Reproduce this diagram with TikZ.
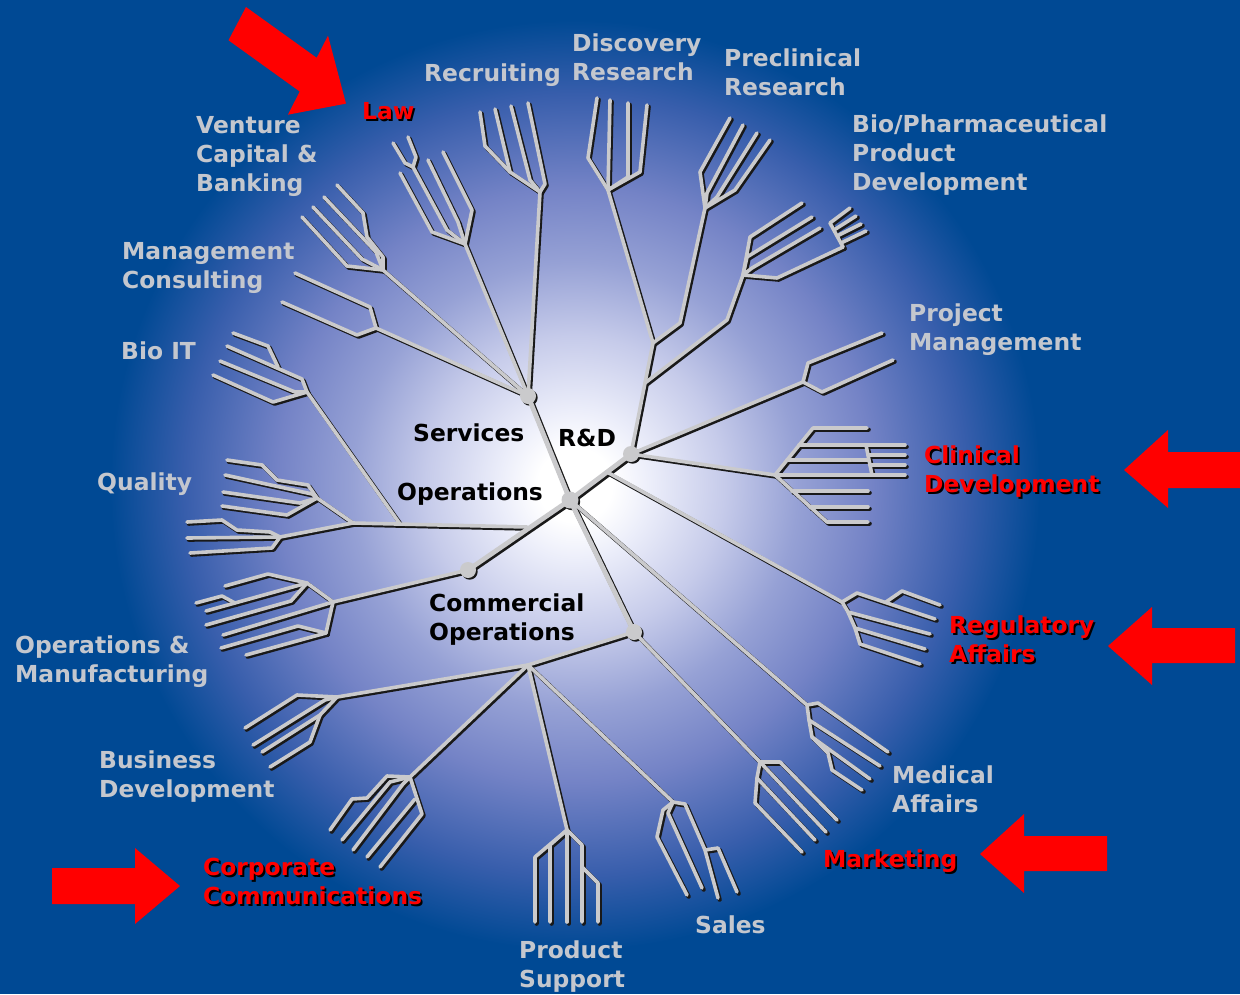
\documentclass[tikz,border=0pt]{standalone}
\usepackage{fontspec}
\setmainfont{DejaVu Sans}
\definecolor{bgblue}{RGB}{0,73,148}
\definecolor{glow0}{RGB}{236,238,250}
\definecolor{glowA}{RGB}{198,203,234}
\definecolor{glowB}{RGB}{150,161,213}
\definecolor{glowC}{RGB}{116,131,198}
\definecolor{glowD}{RGB}{56,94,172}
\definecolor{branchgrey}{RGB}{202,202,204}
\definecolor{lblgrey}{RGB}{196,199,206}
\definecolor{arrowred}{RGB}{255,0,0}
\pgfdeclareradialshading{glow}{\pgfpoint{0bp}{0bp}}{color(0bp)=(white); color(2bp)=(white); color(4bp)=(glow0); color(8bp)=(glowA); color(12bp)=(glowB); color(16bp)=(glowC); color(21bp)=(glowD); color(25bp)=(bgblue); color(50bp)=(bgblue)}
\newcommand\redsh[1]{\rlap{\kern1.8pt\raisebox{-1.8pt}{\textcolor{black}{#1}}}\textcolor{arrowred}{#1}}
\newcommand\treepaths{%
 % main connectors
 \draw[br,trunk] (c0) -- (sv);
 \draw[br,trunk] (c0) -- (rd);
 \draw[br,trunk] (c0) -- (op);
 \draw[br,trunk] (c0) -- (cm);
 \draw[br] (sv) -- (jrec);
 \draw[br] (sv) -- (jlaw);
 \draw[br] (sv) -- (jven);
 \draw[br] (sv) -- (jmgt);
 \draw[br] (rd) -- (rd2) -- (kk) -- (jdis);
 \draw[br] (kk) -- (pre1) -- (jpre);
 \draw[br] (rd2) -- (bp1) -- (jbp);
 \draw[br] (rd) -- (jpm);
 \draw[br] (rd) -- (jcl);
 \draw[br] (r0) -- (jreg);
 \draw[br] (c0) -- (jmed);
 \draw[br] (cm) -- (jmk);
 \draw[br] (cm) -- (ss);
 \draw[br] (ss) -- (jbd);
 \draw[br] (ss) -- (jcc);
 \draw[br] (ss) -- (jps);
 \draw[br] (ss) -- (jsa);
 \draw[br] (q0) -- (jq);
 \draw[br] (b0) -- (jbi);
 \draw[br] (op) -- (jom);
 % Recruiting
 \draw[br] (jrec) -- (510,172) -- (485,146) -- (480,112);
 \draw[br] (510,172) -- (495,109);
 \draw[br] (jrec) -- (530,180) -- (511,106);
 \draw[br] (jrec) -- (545,184) -- (528,103);
 % Law
 \draw[br] (jlaw) -- (432,232) -- (400,173);
 \draw[br] (jlaw) -- (447,230) -- (413,167);
 \draw[br] (413,167) -- (405,163) -- (393,143);
 \draw[br] (413,167) -- (416,157) -- (408,137);
 \draw[br] (jlaw) -- (458,222) -- (428,160);
 \draw[br] (jlaw) -- (472,210) -- (443,152);
 % Venture
 \draw[br] (jven) -- (347,266) -- (302,217);
 \draw[br] (jven) -- (362,259) -- (313,207);
 \draw[br] (jven) -- (376,252) -- (324,197);
 \draw[br] (jven) -- (383,257) -- (367,237) -- (363,213) -- (337,185);
 % Management consulting
 \draw[br] (jmgt) -- (370,307) -- (295,273);
 \draw[br] (jmgt) -- (357,335) -- (282,302);
 % Bio IT
 \draw[br] (jbi) -- (302,379) -- (227,346);
 \draw[br] (278,367) -- (268,346) -- (233,333);
 \draw[br] (jbi) -- (295,392) -- (220,361);
 \draw[br] (jbi) -- (273,402) -- (213,375);
 % Quality
 \draw[br] (jq) -- (317,498);
 \draw[br] (317,498) -- (308,485) -- (277,480) -- (262,465) -- (227,460);
 \draw[br] (317,498) -- (312,494) -- (225,475);
 \draw[br] (317,498) -- (300,503) -- (223,492);
 \draw[br] (317,498) -- (287,515) -- (222,506);
 \draw[br] (jq) -- (280,537);
 \draw[br] (280,537) -- (270,532) -- (237,530) -- (222,520) -- (187,522);
 \draw[br] (280,537) -- (187,538);
 \draw[br] (280,537) -- (272,548) -- (190,553);
 % Operations & Manufacturing
 \draw[br] (jom) -- (307,583);
 \draw[br] (jom) -- (326,633);
 \draw[br] (307,583) -- (268,574) -- (225,586);
 \draw[br] (307,583) -- (206,611);
 \draw[br] (235,603) -- (222,596) -- (196,603);
 \draw[br] (307,583) -- (291,601) -- (206,625);
 \draw[br] (jom) -- (223,635);
 \draw[br] (326,633) -- (298,626) -- (221,648);
 \draw[br] (326,633) -- (246,655);
 % Business Development
 \draw[br] (jbd) -- (297,695) -- (245,728);
 \draw[br] (jbd) -- (325,700) -- (253,745);
 \draw[br] (jbd) -- (320,715) -- (262,752);
 \draw[br] (320,715) -- (310,742) -- (270,767);
 % Corporate Communications
 \draw[br] (jcc) -- (387,776) -- (367,798) -- (352,799) -- (330,830);
 \draw[br] (jcc) -- (390,782) -- (342,840);
 \draw[br] (jcc) -- (403,784) -- (353,850);
 \draw[br] (415,799) -- (367,857);
 \draw[br] (jcc) -- (422,814) -- (380,867);
 % Product Support
 \draw[br] (jps) -- (535,857) -- (535,922);
 \draw[br] (jps) -- (550,845) -- (550,922);
 \draw[br] (jps) -- (567,922);
 \draw[br] (jps) -- (582,845) -- (582,922);
 \draw[br] (582,867) -- (598,883) -- (598,922);
 % Sales
 \draw[br] (jsa) -- (663,810) -- (657,837) -- (687,895);
 \draw[br] (jsa) -- (668,813) -- (702,888);
 \draw[br] (jsa) -- (685,804) -- (705,850) -- (718,898);
 \draw[br] (705,850) -- (718,848) -- (737,892);
 % Marketing
 \draw[br] (jmk) -- (780,762) -- (837,820);
 \draw[br] (jmk) -- (826,832);
 \draw[br] (jmk) -- (757,778) -- (815,840);
 \draw[br] (757,778) -- (755,803) -- (802,852);
 % Medical Affairs
 \draw[br] (jmed) -- (818,703) -- (888,752);
 \draw[br] (jmed) -- (809,720) -- (880,766);
 \draw[br] (809,720) -- (812,737) -- (870,779);
 \draw[br] (812,737) -- (828,753) -- (832,770) -- (862,790);
 % Regulatory Affairs
 \draw[br] (jreg) -- (857,593) -- (935,619);
 \draw[br] (886,602) -- (902,591) -- (940,605);
 \draw[br] (jreg) -- (848,612) -- (930,634);
 \draw[br] (848,612) -- (855,628) -- (925,649);
 \draw[br] (855,628) -- (860,644) -- (920,664);
 % Clinical Development
 \draw[br] (jcl) -- (813,428) -- (867,428);
 \draw[br] (jcl) -- (827,522) -- (868,522);
 \draw[br] (799,445) -- (905,445);
 \draw[br] (787,460) -- (868,460);
 \draw[br] (jcl) -- (905,475);
 \draw[br] (792,491) -- (868,491);
 \draw[br] (810,507) -- (868,507);
 \draw[br] (866,445) -- (872,475);
 \draw[br] (868,455) -- (905,455);
 \draw[br] (870,465) -- (905,465);
 % Project Management
 \draw[br] (jpm) -- (808,363) -- (882,333);
 \draw[br] (jpm) -- (822,392) -- (893,360);
 % Discovery Research
 \draw[br] (jdis) -- (588,158) -- (597,98);
 \draw[br] (jdis) -- (610,100);
 \draw[br] (jdis) -- (628,177) -- (628,103);
 \draw[br] (jdis) -- (640,172) -- (647,105);
 % Preclinical Research
 \draw[br] (jpre) -- (700,172) -- (730,118);
 \draw[br] (jpre) -- (707,193) -- (743,125);
 \draw[br] (jpre) -- (717,197) -- (757,133);
 \draw[br] (jpre) -- (735,190) -- (770,140);
 % Bio/Pharmaceutical Product Development
 \draw[br] (jbp) -- (750,237) -- (802,203);
 \draw[br] (jbp) -- (747,257) -- (812,217);
 \draw[br] (jbp) -- (752,268) -- (820,228);
 \draw[br] (jbp) -- (777,278) -- (843,247);
 \draw[br] (830,223) -- (843,247);
 \draw[br] (830,223) -- (850,208);
 \draw[br] (834,230) -- (856,216);
 \draw[br] (837,236) -- (861,224);
 \draw[br] (841,243) -- (866,231);
 % hubs
 \fill[hubfill] (c0) circle (8.5);
 \fill[hubfill] (sv) circle (8);
 \fill[hubfill] (rd) circle (8);
 \fill[hubfill] (op) circle (8);
 \fill[hubfill] (cm) circle (8);
}
\begin{document}
\begin{tikzpicture}[x=1pt,y=-1pt,
  lbl/.style={anchor=north west, inner sep=0pt, align=left, text=lblgrey,
    font=\fontsize{23.4}{29}\selectfont\bfseries},
  redlbl/.style={lbl, text=arrowred},
  blklbl/.style={lbl, text=black}]
\useasboundingbox (0,0) rectangle (1240,994);
\fill[bgblue] (0,0) rectangle (1240,994);
\shade[shading=glow] (575,485) circle (465);
% named points of the tree
\coordinate (c0) at (570,500);
\coordinate (sv) at (528,396);
\coordinate (rd) at (631,454);
\coordinate (op) at (468,570);
\coordinate (cm) at (634,632);
\coordinate (rd2) at (645,383);
\coordinate (kk) at (653,343);
\coordinate (pre1) at (680,323);
\coordinate (bp1) at (727,320);
\coordinate (jrec) at (540,192);
\coordinate (jlaw) at (465,244);
\coordinate (jven) at (383,270);
\coordinate (jmgt) at (376,328);
\coordinate (jdis) at (608,190);
\coordinate (jpre) at (705,208);
\coordinate (jbp) at (743,275);
\coordinate (jpm) at (803,382);
\coordinate (jcl) at (775,475);
\coordinate (r0) at (607,472);
\coordinate (jreg) at (842,602);
\coordinate (jmed) at (807,705);
\coordinate (jmk) at (760,762);
\coordinate (ss) at (528,665);
\coordinate (jbd) at (337,697);
\coordinate (jcc) at (410,777);
\coordinate (jps) at (567,830);
\coordinate (jsa) at (673,802);
\coordinate (q0) at (527,527);
\coordinate (jq) at (353,523);
\coordinate (b0) at (400,524);
\coordinate (jbi) at (307,392);
\coordinate (jom) at (333,602);
% shadow pass
\begin{scope}[transform canvas={shift={(1.7,1.7)}},
  br/.style={draw=black!90, line width=4.2pt, line cap=round, line join=round},
  trunk/.style={line width=5.4pt}, hubfill/.style={fill=black!90}]
  \treepaths
\end{scope}
% grey pass
\begin{scope}[br/.style={draw=branchgrey, line width=3.6pt, line cap=round, line join=round},
  trunk/.style={line width=4.8pt}, hubfill/.style={fill=branchgrey}]
  \treepaths
\end{scope}
% labels
\node[lbl] (discovery) at (572,34) {Discovery\\Research};
\node[lbl] (recruiting) at (424,64) {Recruiting};
\node[lbl] (preclin) at (724,49) {Preclinical\\Research};
\node[lbl] (biopharma) at (852,115) {Bio/Pharmaceutical\\Product\\Development};
\node[lbl] (venture) at (196,116) {Venture\\Capital \&\\Banking};
\node[redlbl] (law) at (362,102) {\redsh{Law}};
\node[lbl] (mgmt) at (122,242) {Management\\Consulting};
\node[lbl] (bioit) at (121,342) {Bio IT};
\node[lbl] (quality) at (97,473) {Quality};
\node[lbl] (opsman) at (15,636) {Operations \&\\Manufacturing};
\node[lbl] (busdev) at (99,751) {Business\\Development};
\node[redlbl] (corp) at (203,858) {\redsh{Corporate}\\\redsh{Communications}};
\node[lbl] (prodsup) at (519,941) {Product\\Support};
\node[lbl] (sales) at (695,916) {Sales};
\node[redlbl] (marketing) at (823,850) {\redsh{Marketing}};
\node[lbl] (medical) at (892,766) {Medical\\Affairs};
\node[redlbl] (regulatory) at (949,616) {\redsh{Regulatory}\\\redsh{Affairs}};
\node[redlbl] (clinical) at (924,446) {\redsh{Clinical}\\\redsh{Development}};
\node[lbl] (project) at (909,304) {Project\\Management};
\node[blklbl] (services) at (413,424) {Services};
\node[blklbl] (rnd) at (558,429) {R\&D};
\node[blklbl] (operations) at (397,483) {Operations};
\node[blklbl] (commercial) at (429,594) {Commercial\\Operations};
% red arrows
\fill[arrowred] (246,7) -- (316.7,57.8) -- (328,35.6) -- (346,103.6) -- (287.9,114.7) -- (299.7,91.5) -- (228.5,40.3) -- cycle;
\fill[arrowred] (1240,452) -- (1168,452) -- (1168,430) -- (1124,470) -- (1168,508) -- (1168,488) -- (1240,488) -- cycle;
\fill[arrowred] (1235,628) -- (1152,628) -- (1152,607) -- (1108,646) -- (1152,685) -- (1152,663) -- (1235,663) -- cycle;
\fill[arrowred] (1107,836) -- (1024,836) -- (1024,814) -- (980,854) -- (1024,893) -- (1024,871) -- (1107,871) -- cycle;
\fill[arrowred] (52,868) -- (135,868) -- (135,848) -- (180,886) -- (135,924) -- (135,904) -- (52,904) -- cycle;
\end{tikzpicture}
\end{document}
